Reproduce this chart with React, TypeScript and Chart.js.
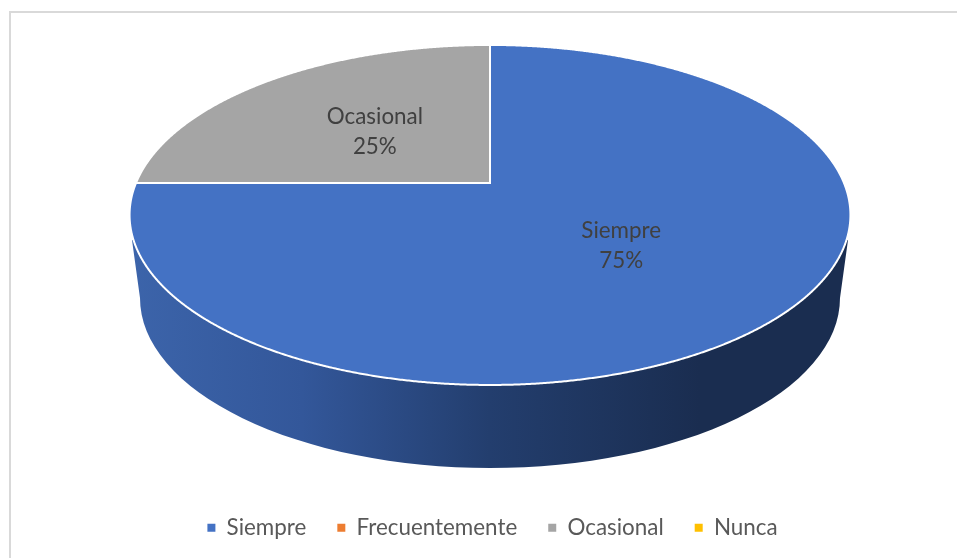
import React, { useEffect, useRef } from "react";
import { Chart, registerables } from "chart.js";

Chart.register(...registerables);

const categories = ["Siempre", "Frecuentemente", "Ocasional", "Nunca"];
const seriesValues = [75, 0, 25, 0];
const sliceColors = ["#4472C4", "#ED7D31", "#A5A5A5", "#FFC000"];

const FONT = "Lato, Carlito, sans-serif";
const APEX_X = 490;
const APEX_Y = 183;
const RADIUS_X = 354;
const RADIUS_Y = 164;
const PERSPECTIVE = 0.188;

function project(angle: number, r = 1) {
  const u = r * Math.cos(angle);
  const v = r * Math.sin(angle);
  const w = 1 - PERSPECTIVE * v;
  return { x: APEX_X + (RADIUS_X * u) / w, y: APEX_Y + (RADIUS_Y * v) / w };
}

function slicePath(ctx: CanvasRenderingContext2D, start: number, end: number) {
  ctx.beginPath();
  ctx.moveTo(APEX_X, APEX_Y);
  const steps = Math.ceil((end - start) / 0.004);
  for (let i = 0; i <= steps; i++) {
    const p = project(start + ((end - start) * i) / steps);
    ctx.lineTo(p.x, p.y);
  }
  ctx.closePath();
}

const pie3d = {
  id: "pie3d",
  beforeDatasetDraw(chart: any, args: any) {
    const ctx = chart.ctx as CanvasRenderingContext2D;
    ctx.save();
    // side wall
    const grad = ctx.createLinearGradient(131, 0, 700, 0);
    grad.addColorStop(0, "#3C64AA");
    grad.addColorStop(0.3, "#33579A");
    grad.addColorStop(0.63, "#233E6E");
    grad.addColorStop(1, "#1A2D50");
    ctx.beginPath();
    ctx.moveTo(132, 240);
    ctx.ellipse(490, 298, 350, 170, 0, Math.PI, 0, true);
    ctx.lineTo(848, 240);
    ctx.closePath();
    ctx.fillStyle = grad;
    ctx.fill();
    // top face slices, in the perspective of the reference
    for (const el of args.meta.data) {
      if (el.endAngle - el.startAngle <= 0) continue;
      slicePath(ctx, el.startAngle, el.endAngle);
      ctx.fillStyle = el.options.backgroundColor;
      ctx.fill();
    }
    for (const el of args.meta.data) {
      if (el.endAngle - el.startAngle <= 0) continue;
      slicePath(ctx, el.startAngle, el.endAngle);
      ctx.strokeStyle = "#FFFFFF";
      ctx.lineWidth = 2;
      ctx.stroke();
    }
    ctx.restore();
    return false;
  },
  afterDatasetsDraw(chart: any) {
    const ctx = chart.ctx as CanvasRenderingContext2D;
    const meta = chart.getDatasetMeta(0);
    const values: number[] = chart.data.datasets[0].data;
    const total = values.reduce((a, b) => a + b, 0);
    ctx.save();
    ctx.font = `22.4px ${FONT}`;
    ctx.fillStyle = "#404040";
    ctx.textAlign = "center";
    ctx.textBaseline = "middle";
    meta.data.forEach((el: any, i: number) => {
      if (!values[i]) return;
      const p = project((el.startAngle + el.endAngle) / 2, 0.49);
      ctx.fillText(String(chart.data.labels[i]), p.x, p.y - 13);
      ctx.fillText(`${Math.round((values[i] / total) * 100)}%`, p.x, p.y + 17);
    });
    ctx.restore();
  },
};

export default function App() {
  const ref = useRef<HTMLCanvasElement>(null);
  useEffect(() => {
    document.body.style.margin = "0";
    document.body.style.background = "#FFFFFF";
    const chart = new Chart(ref.current!, {
      type: "pie",
      data: {
        labels: categories,
        datasets: [{ data: seriesValues, backgroundColor: sliceColors, borderWidth: 0 }],
      },
      options: {
        responsive: false,
        animation: false,
        layout: { padding: { bottom: 9, left: 28 } },
        plugins: {
          tooltip: { enabled: false },
          legend: {
            position: "bottom",
            labels: {
              boxWidth: 8,
              boxHeight: 8,
              padding: 31,
              color: "#595959",
              font: { family: FONT, size: 22.4 },
            },
          },
        },
      },
      plugins: [pie3d],
    });
    return () => chart.destroy();
  }, []);
  return (
    <div style={{ position: "relative", width: 957, height: 558, overflow: "hidden", background: "#fff" }}>
      <div
        style={{
          position: "absolute",
          left: 9,
          top: 11,
          width: 960,
          height: 560,
          borderLeft: "2px solid #D9D9D9",
          borderTop: "2px solid #D9D9D9",
        }}
      />
      <canvas ref={ref} width={957} height={558} style={{ position: "absolute", left: 0, top: 0, display: "block" }} />
    </div>
  );
}
